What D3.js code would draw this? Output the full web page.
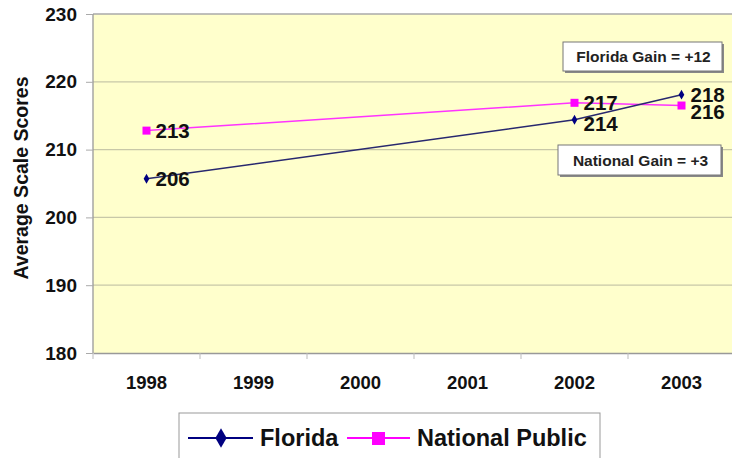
<!DOCTYPE html>
<html><head><meta charset="utf-8">
<script src="https://cdn.jsdelivr.net/npm/d3@7"></script>
<style>body{margin:0;background:#fff;}svg{display:block;font-family:"Liberation Sans",Arial,sans-serif;}</style>
</head><body><svg id="c" width="732" height="458"></svg>
<script>
const years = ["1998","1999","2000","2001","2002","2003"];
const yTicks = [180,190,200,210,220,230];
const floridaYears = ["1998","2002","2003"];
const floridaValues = [205.7, 214.4, 218.1];
const floridaLabels = ["206","214","218"];
const nationalYears = ["1998","2002","2003"];
const nationalValues = [212.8, 216.9, 216.5];
const nationalLabels = ["213","217","216"];
const seriesNames = ["Florida","National Public"];
const notes = ["Florida Gain = +12","National Gain = +3"];

const svg = d3.select("#c");
const x = d3.scaleBand().domain(years).range([93,735]);
const y = d3.scaleLinear().domain([180,230]).range([353,14]);
const cx = d => x(d)+x.bandwidth()/2;
const FONT = "Liberation Sans, Arial";

// plot area
svg.append("rect").attr("x",93).attr("y",14).attr("width",660).attr("height",339).attr("fill","#ffffcc");
svg.append("g").selectAll("line").data(yTicks.filter(t=>t>180)).join("line")
  .attr("x1",93).attr("x2",732).attr("y1",d=>y(d)).attr("y2",d=>y(d))
  .attr("stroke",d=>d===230?"#aaa":"#c8c8a8").attr("stroke-width",1.3);
svg.append("line").attr("x1",93).attr("x2",93).attr("y1",14).attr("y2",353).attr("stroke","#999").attr("stroke-width",1.3);

// y axis
const ya = svg.append("g").attr("transform","translate(93,0)")
  .call(d3.axisLeft(y).tickValues(yTicks).tickSize(7).tickPadding(9));
ya.select(".domain").remove();
ya.selectAll("line").attr("stroke","#aaa");
ya.selectAll("text").attr("font-size",19).attr("font-weight","bold").attr("fill","#111").attr("font-family",FONT);

// x axis
const xa = svg.append("g").attr("transform","translate(0,353)")
  .call(d3.axisBottom(x).tickSize(0).tickPadding(23));
xa.select(".domain").attr("stroke","#999").attr("stroke-width",1.3);
xa.selectAll("text").attr("font-size",18.5).attr("font-weight","bold").attr("fill","#111").attr("font-family",FONT);
svg.append("g").selectAll("line").data(years).join("line")
  .attr("x1",d=>x(d)).attr("x2",d=>x(d)).attr("y1",353).attr("y2",359).attr("stroke","#bbb");

svg.append("text").attr("transform","translate(28,178) rotate(-90)").attr("text-anchor","middle")
  .attr("font-size",19.5).attr("font-weight","bold").attr("fill","#111").text("Average Scale Scores");

// lines
const fl = floridaYears.map((d,i)=>({x:d,v:floridaValues[i],l:floridaLabels[i]}));
const na = nationalYears.map((d,i)=>({x:d,v:nationalValues[i],l:nationalLabels[i]}));
const line = d3.line().x(d=>cx(d.x)).y(d=>y(d.v));
svg.append("path").datum(na).attr("d",line).attr("fill","none").attr("stroke","#ff33ff").attr("stroke-width",1.5);
svg.append("path").datum(fl).attr("d",line).attr("fill","none").attr("stroke","#28286e").attr("stroke-width",1.5);
svg.append("g").selectAll("rect").data(na).join("rect")
  .attr("x",d=>cx(d.x)-4).attr("y",d=>y(d.v)-4).attr("width",8).attr("height",8).attr("fill","#ff00ff");
svg.append("g").selectAll("path").data(fl).join("path")
  .attr("d",d3.symbol(d3.symbolDiamond,28)).attr("transform",d=>`translate(${cx(d.x)},${y(d.v)})`).attr("fill","#000080");

// data labels
const lab = (data, dys) => svg.append("g").selectAll("text").data(data).join("text")
  .attr("x",d=>cx(d.x)+9).attr("y",(d,i)=>y(d.v)+dys[i])
  .attr("font-size",20.5).attr("font-weight","bold").attr("fill","#111").text(d=>d.l);
lab(na,[7,7,13]);
lab(fl,[7,11,7]);

// annotation boxes
function note(x0,y0,w,h,t){
  svg.append("rect").attr("x",x0+2).attr("y",y0+2).attr("width",w).attr("height",h).attr("fill","#888");
  svg.append("rect").attr("x",x0).attr("y",y0).attr("width",w).attr("height",h).attr("fill","#fff").attr("stroke","#777");
  svg.append("text").attr("x",x0+w/2+1).attr("y",y0+h/2+5.5).attr("text-anchor","middle")
    .attr("font-size",15.5).attr("font-weight","bold").attr("fill","#222").text(t);
}
note(563,42,159,29,notes[0]);
note(558,145,163,30,notes[1]);

// legend
svg.append("rect").attr("x",179).attr("y",413).attr("width",421).attr("height",60).attr("fill","#fff").attr("stroke","#999");
const lg = svg.append("g");
lg.append("line").attr("x1",188).attr("x2",253).attr("y1",438).attr("y2",438).attr("stroke","#000080").attr("stroke-width",2);
lg.append("path").attr("d",d3.symbol(d3.symbolDiamond,110)).attr("transform","translate(221,438)").attr("fill","#000080");
lg.append("text").attr("x",260).attr("y",446).attr("font-size",23.5).attr("font-weight","bold").attr("fill","#111").text(seriesNames[0]);
lg.append("line").attr("x1",347).attr("x2",410).attr("y1",438).attr("y2",438).attr("stroke","#ff00ff").attr("stroke-width",2);
lg.append("rect").attr("x",372).attr("y",432).attr("width",13).attr("height",13).attr("fill","#ff00ff");
lg.append("text").attr("x",417).attr("y",446).attr("font-size",23.5).attr("font-weight","bold").attr("fill","#111").text(seriesNames[1]);
</script></body></html>
